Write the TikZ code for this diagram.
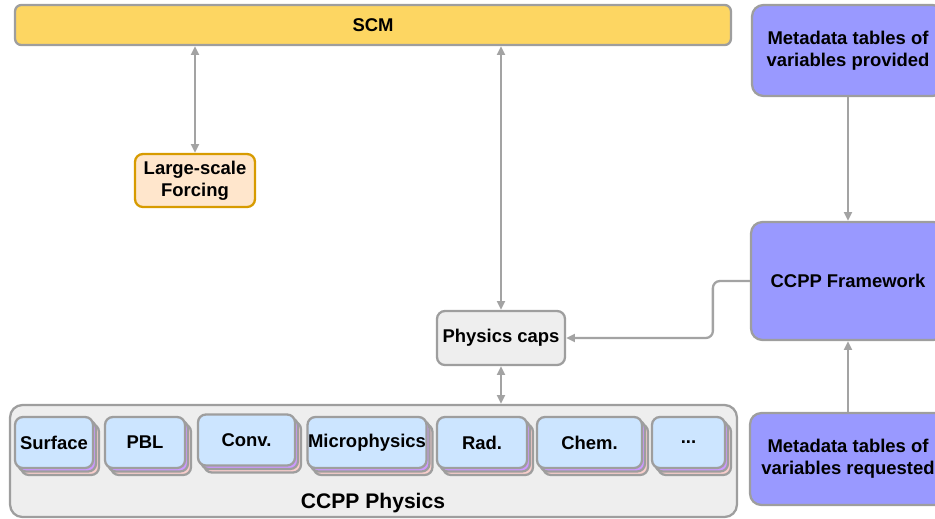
\documentclass[tikz,border=0pt]{standalone}
\usepackage{fontspec}
\setmainfont{Liberation Sans}
\usetikzlibrary{arrows.meta, calc}
\definecolor{scmyellow}{HTML}{FDD662}
\definecolor{forcefill}{HTML}{FFE6CC}
\definecolor{forcedraw}{HTML}{D79B00}
\definecolor{capsfill}{HTML}{EEEEEE}
\definecolor{boxgray}{HTML}{9E9E9E}
\definecolor{linkgray}{HTML}{A3A3A3}
\definecolor{metafill}{HTML}{9999FF}
\definecolor{schemeblue}{HTML}{CCE5FF}
\definecolor{stackpurple}{HTML}{CC99FF}
\definecolor{stackpink}{HTML}{F8CECC}
\newcommand{\moredots}{...}
\tikzset{
  box/.style = {draw=boxgray, line width=1.3pt, rounded corners=4.5pt, align=center, inner sep=0pt,
                font=\fontsize{10.5}{12.5}\selectfont\bfseries},
  meta/.style = {box, fill=metafill, rounded corners=6.5pt},
  scheme/.style = {box, fill=schemeblue, minimum height=1.02cm},
  link/.style = {draw=linkgray, line width=1.3pt},
  tip/.style = {-{Triangle[length=5pt,width=4.5pt]}},
  bitip/.style = {{Triangle[length=5pt,width=4.5pt]}-{Triangle[length=5pt,width=4.5pt]}}
}

\begin{document}
\begin{tikzpicture}[x=0.02cm, y=-0.02cm]
\useasboundingbox (0,0) rectangle (935,518);

\node[box, fill=scmyellow, minimum width=14.32cm, minimum height=0.8cm, rounded corners=3.5pt] (scm) at (373,25) {SCM};
\node[box, fill=forcefill, draw=forcedraw, minimum width=2.4cm, minimum height=1.06cm] (forcing) at (195,180.5) {Large-scale\\Forcing};
\node[box, fill=capsfill, minimum width=2.56cm, minimum height=1.08cm] (caps) at (501,338) {Physics caps};

% CCPP physics suite
\node[box, fill=capsfill, minimum width=14.54cm, minimum height=2.24cm, rounded corners=7pt] (physics) at (373.5,461) {};
\node[font=\fontsize{12}{14}\selectfont\bfseries] (physlabel) at (373,503) {CCPP Physics};
\foreach \nm/\txt/\cx/\cy/\w in {sfc/Surface/54/442.5/78, pbl/PBL/145/442.5/80, conv/Conv./246.5/440/97,
    mp/Microphysics/367/442.5/119, rad/Rad./482/442.5/90, chem/Chem./589.5/442.5/105, more/\moredots/688.5/442.5/73}
{
  \node[scheme, fill=stackpink, minimum width=\w*0.02cm] at (\cx+6,\cy+7) {};
  \node[scheme, fill=stackpurple, minimum width=\w*0.02cm] at (\cx+3,\cy+3.5) {};
  \node[scheme, minimum width=\w*0.02cm] (\nm) at (\cx,\cy) {\txt};
}

% metadata and framework
\node[meta, minimum width=3.84cm, minimum height=1.82cm] (provided) at (848,50.5) {Metadata tables of\\variables provided};
\node[meta, minimum width=3.88cm, minimum height=2.36cm] (framework) at (848,281) {CCPP Framework};
\node[meta, minimum width=3.92cm, minimum height=1.84cm] (requested) at (848,459) {Metadata tables of\\variables requested};

\draw[link, bitip] (forcing.north |- scm.south) -- (forcing.north);
\draw[link, bitip] (caps.north |- scm.south) -- (caps.north);
\draw[link, bitip] (caps.south) -- (caps.south |- physics.north);
\draw[link, tip] (provided.south) -- (framework.north);
\draw[link, tip] (requested.north) -- (framework.south);
\draw[link, tip, rounded corners=4pt] (framework.west) -- ++(-37,0) |- (caps.east);
\end{tikzpicture}
\end{document}
